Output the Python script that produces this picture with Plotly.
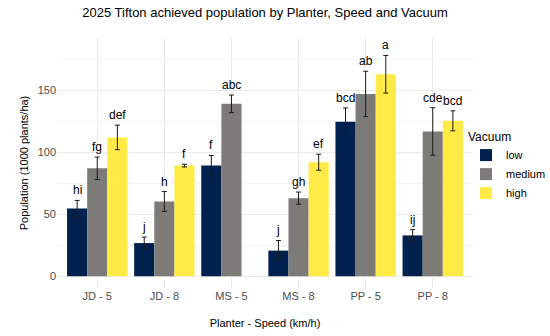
import plotly.graph_objects as go

categories = ["JD - 5", "JD - 8", "MS - 5", "MS - 8", "PP - 5", "PP - 8"]
vacuum_levels = ["low", "medium", "high"]

low_mean = [54.7, 26.8, 89.4, 20.7, 124.8, 33.0]
low_sd = [6.6, 4.8, 8.2, 8.2, 11.2, 4.7]
low_letters = ["hi", "j", "f", "j", "bcd", "ij"]

medium_mean = [87.2, 60.4, 139.3, 63.1, 147.3, 117.0]
medium_sd = [9.1, 8.0, 7.1, 4.9, 18.3, 19.2]
medium_letters = ["fg", "h", "abc", "gh", "ab", "cde"]

high_mean = [112.2, 89.4, None, 92.1, 163.2, 125.6]
high_sd = [9.9, 1.1, None, 6.5, 15.2, 8.1]
high_letters = ["def", "f", None, "ef", "a", "bcd"]

colors = {"low": "#00204D", "medium": "#7C7B78", "high": "#FFEA46"}

series = {
    "low": (low_mean, low_sd, low_letters),
    "medium": (medium_mean, medium_sd, medium_letters),
    "high": (high_mean, high_sd, high_letters),
}

FONT = "Liberation Sans, Arial, Helvetica, sans-serif"

fig = go.Figure()
annotations = []
offsets = {"low": -0.3, "medium": 0.0, "high": 0.3}
for lvl in vacuum_levels:
    means, sds, letters = series[lvl]
    fig.add_trace(go.Bar(
        name=lvl, x=categories, y=means,
        marker=dict(color=colors[lvl], line=dict(width=0)),
        error_y=dict(type="data", array=[s if s is not None else 0 for s in sds],
                     visible=True, color="#1a1a1a", thickness=1, width=2.5),
    ))
    for i, (m, s, lab) in enumerate(zip(means, sds, letters)):
        if m is None or lab is None:
            continue
        annotations.append(dict(
            x=i + offsets[lvl], y=m + s, xref="x", yref="y",
            text=lab, showarrow=False, yanchor="bottom", xanchor="center",
            yshift=1, font=dict(family=FONT, size=12, color="black"),
        ))

fig.update_layout(
    width=550, height=336,
    margin=dict(l=57, r=77, t=38, b=48, autoexpand=False),
    paper_bgcolor="white", plot_bgcolor="white",
    barmode="group", bargap=0.1, bargroupgap=0,
    font=dict(family=FONT, size=11, color="black"),
    title=dict(text="2025 Tifton achieved population by Planter, Speed and Vacuum",
               x=0.5, xref="paper", y=1 - 12 / 336, yref="container",
               yanchor="middle", xanchor="center",
               font=dict(family=FONT, size=13, color="black")),
    legend=dict(title=dict(text="Vacuum", font=dict(family=FONT, size=12, color="black")),
                font=dict(family=FONT, size=11, color="black"),
                xref="container", x=466 / 550, xanchor="left",
                yref="container", y=1 - 125 / 336, yanchor="top",
                bgcolor="rgba(0,0,0,0)", traceorder="normal"),
    annotations=annotations,
    showlegend=True,
)
fig.update_xaxes(
    title=dict(text="Planter - Speed (km/h)", font=dict(family=FONT, size=11, color="black"), standoff=18),
    showgrid=True, gridcolor="#EBEBEB", gridwidth=1,
    tickfont=dict(family=FONT, size=11, color="#4D4D4D"),
    showline=False, zeroline=False, ticks="", range=[-0.6, 5.6],
)
fig.update_yaxes(
    title=dict(text="Population (1000 plants/ha)", font=dict(family=FONT, size=11, color="black"), standoff=6),
    range=[-9.5, 192.5], tickvals=[0, 50, 100, 150],
    showgrid=True, gridcolor="#EBEBEB", gridwidth=1,
    minor=dict(tickvals=[25, 75, 125, 175], showgrid=True, gridcolor="#F3F3F3", gridwidth=0.6),
    tickfont=dict(family=FONT, size=11, color="#4D4D4D"),
    showline=False, zeroline=False, ticks="",
)

fig.write_html("out.html", config={"displayModeBar": False},
               post_script="document.body.style.margin='0';document.body.style.padding='0';")
